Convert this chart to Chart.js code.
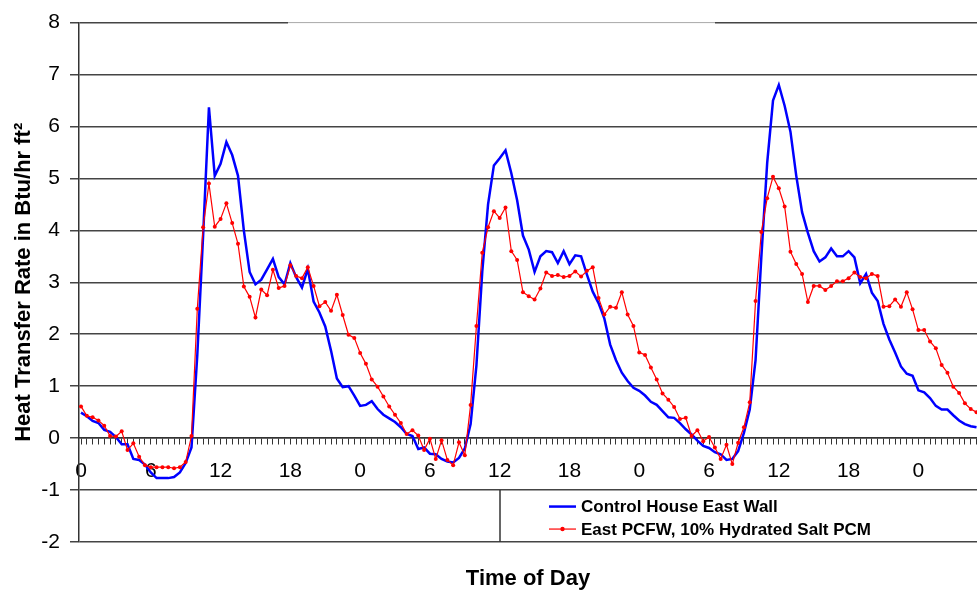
<!DOCTYPE html>
<html><head><meta charset="utf-8">
<script src="https://cdn.jsdelivr.net/npm/chart.js@4.4.0/dist/chart.umd.min.js"></script>
<style>html,body{margin:0;padding:0;background:#fff;overflow:hidden}</style>
</head><body>
<canvas id="c" width="977" height="597"></canvas>
<script>
// ---- data (half-hour samples starting at hour 0) ----
const seriesNames = ['Control House East Wall', 'East PCFW, 10% Hydrated Salt PCM'];
const controlWall = [
 0.49,0.42,0.33,0.29,0.16,0.12,0.02,-0.12,-0.12,-0.40,
 -0.42,-0.51,-0.66,-0.77,-0.77,-0.77,-0.75,-0.66,-0.48,-0.18,
 1.6,3.9,6.37,5.05,5.28,5.7,5.45,5.05,4.0,3.2,
 2.96,3.05,3.25,3.45,3.1,2.96,3.37,3.1,2.9,3.26,
 2.63,2.42,2.15,1.68,1.15,0.98,1.0,0.82,0.62,0.64,
 0.71,0.56,0.45,0.38,0.31,0.21,0.08,0.04,-0.21,-0.18,
 -0.30,-0.31,-0.40,-0.45,-0.47,-0.38,-0.2,0.27,1.4,3.2,
 4.5,5.25,5.39,5.54,5.1,4.58,3.9,3.63,3.2,3.5,
 3.6,3.58,3.37,3.6,3.35,3.52,3.5,3.15,2.82,2.6,
 2.3,1.8,1.5,1.26,1.1,0.97,0.91,0.82,0.70,0.64,
 0.52,0.40,0.39,0.29,0.17,0.07,-0.05,-0.15,-0.19,-0.27,
 -0.31,-0.42,-0.40,-0.25,0.1,0.55,1.5,3.5,5.3,6.5,
 6.8,6.4,5.9,5.05,4.35,3.95,3.6,3.4,3.48,3.65,
 3.5,3.5,3.6,3.48,2.98,3.16,2.8,2.64,2.2,1.9,
 1.65,1.38,1.24,1.2,0.92,0.88,0.77,0.62,0.55,0.55,
 0.44,0.34,0.27,0.23,0.21
];
const pcmWall = [
 0.61,0.43,0.40,0.34,0.24,0.04,0.03,0.13,-0.23,-0.10,
 -0.36,-0.52,-0.56,-0.56,-0.56,-0.56,-0.58,-0.56,-0.46,0.04,
 2.49,4.06,4.90,4.07,4.22,4.52,4.14,3.74,2.92,2.72,
 2.32,2.86,2.75,3.24,2.89,2.93,3.33,3.12,3.08,3.29,
 2.93,2.54,2.62,2.45,2.76,2.37,1.99,1.93,1.64,1.43,
 1.13,0.99,0.80,0.61,0.45,0.29,0.08,0.15,0.05,-0.23,
 -0.01,-0.40,-0.04,-0.42,-0.52,-0.08,-0.33,0.64,2.16,3.57,
 4.06,4.37,4.24,4.44,3.60,3.43,2.81,2.73,2.67,2.88,
 3.19,3.12,3.14,3.10,3.12,3.21,3.11,3.22,3.29,2.70,
 2.38,2.53,2.51,2.81,2.38,2.16,1.65,1.60,1.36,1.13,
 0.86,0.74,0.60,0.37,0.39,0.04,0.15,-0.06,0.02,-0.18,
 -0.40,-0.13,-0.50,-0.09,0.21,0.69,2.64,3.97,4.62,5.03,
 4.81,4.46,3.59,3.35,3.16,2.62,2.93,2.93,2.85,2.93,
 3.02,3.02,3.08,3.19,3.10,3.08,3.16,3.12,2.53,2.54,
 2.67,2.53,2.81,2.48,2.08,2.08,1.86,1.73,1.41,1.26,
 0.99,0.87,0.67,0.56,0.50
];
const sampleStepHours = 0.5;
const timeHours = controlWall.map((_, i) => i * sampleStepHours);
const xTickHours  = [0, 6, 12, 18, 24, 30, 36, 42, 48, 54, 60, 66, 72];
const xTickLabels = ['0','6','12','18','0','6','12','18','0','6','12','18','0'];
const yMin = -2, yMax = 8, yStep = 1;
const xMin = -0.172, xMax = 77.04;

const FONT = 'Arial, "Liberation Sans", sans-serif';
const toPts = (vals) => vals.map((v, i) => ({x: timeHours[i], y: v}));

const legendPlugin = {
  id: 'excelLegend',
  afterDraw(chart) {
    const ctx = chart.ctx;
    const ys = chart.scales.y;
    const yTop = ys.getPixelForValue(-1), yBot = ys.getPixelForValue(-2);
    const boxLeft = 500;
    ctx.save();
    // faded part of top gridline (as in reference)
    const y8 = ys.getPixelForValue(8);
    ctx.strokeStyle = '#ffffff'; ctx.lineWidth = 3;
    ctx.beginPath(); ctx.moveTo(288, y8); ctx.lineTo(715, y8); ctx.stroke();
    ctx.strokeStyle = '#a8a8a8'; ctx.lineWidth = 1;
    ctx.beginPath(); ctx.moveTo(288, y8); ctx.lineTo(715, y8); ctx.stroke();
    // legend box left edge
    ctx.strokeStyle = '#333'; ctx.lineWidth = 1.5;
    ctx.beginPath(); ctx.moveTo(boxLeft, yTop); ctx.lineTo(boxLeft, yBot); ctx.stroke();
    const ds = chart.data.datasets;
    const rows = [yTop + 16.5, yTop + 39];
    [0, 1].forEach((di, r) => {
      const d = ds[di];
      const yy = rows[r];
      ctx.strokeStyle = d.borderColor; ctx.lineWidth = d.borderWidth;
      ctx.beginPath(); ctx.moveTo(549, yy); ctx.lineTo(576, yy); ctx.stroke();
      if (d.pointRadius > 0) {
        ctx.fillStyle = d.borderColor;
        ctx.beginPath(); ctx.arc(562.5, yy, 2.2, 0, Math.PI * 2); ctx.fill();
      }
      ctx.fillStyle = '#000';
      ctx.font = 'bold 17px ' + FONT;
      ctx.textBaseline = 'middle'; ctx.textAlign = 'left';
      ctx.fillText(d.label, 581, yy + 1);
    });
    ctx.restore();
  }
};

new Chart(document.getElementById('c'), {
  type: 'line',
  data: {
    datasets: [
      { label: seriesNames[0], data: toPts(controlWall), borderColor: '#0000FF', borderWidth: 2.5,
        pointRadius: 0, tension: 0, order: 2 },
      { label: seriesNames[1], data: toPts(pcmWall), borderColor: '#FF0000', borderWidth: 1.2,
        pointRadius: 2, pointBackgroundColor: '#FF0000', pointBorderWidth: 0, pointStyle: 'circle',
        tension: 0, order: 1 }
    ]
  },
  options: {
    responsive: false, animation: false, devicePixelRatio: 1,
    layout: { autoPadding: false, padding: { top: 16, right: 0, bottom: 0, left: 0 } },
    plugins: { legend: { display: false }, tooltip: { enabled: false } },
    scales: {
      x: {
        type: 'linear', position: { y: 0 }, min: xMin, max: xMax,
        grid: { drawOnChartArea: false, drawTicks: true, tickLength: 6, color: '#333', lineWidth: 1 },
        border: { display: true, color: '#333', width: 1.5 },
        ticks: {
          stepSize: sampleStepHours, includeBounds: false, autoSkip: false, maxRotation: 0, minRotation: 0,
          padding: 0, color: '#000', font: { family: FONT, size: 21, lineHeight: '54px' },
          callback: (v) => {
            const k = xTickHours.findIndex(h => Math.abs(h - v) < 1e-6);
            return k >= 0 ? xTickLabels[k] : '';
          }
        }
      },
      xTitle: {
        type: 'linear', axis: 'x', position: 'bottom', min: 0, max: 1,
        grid: { display: false, drawTicks: false }, border: { display: false },
        ticks: { display: false },
        title: { display: true, text: 'Time of Day', color: '#000',
                 font: { family: FONT, size: 22, weight: 'bold' }, padding: { top: 23.6, bottom: 5 } }
      },
      y: {
        type: 'linear', min: yMin, max: yMax,
        afterFit: (s) => { s.width = 79; },
        grid: { color: '#444', lineWidth: 1.5, tickLength: 9, drawTicks: true },
        border: { display: true, color: '#333', width: 1.5 },
        ticks: { stepSize: yStep, padding: 10, color: '#000', font: { family: FONT, size: 21 } },
        title: { display: true, text: 'Heat Transfer Rate in Btu/hr ft²', color: '#000',
                 font: { family: FONT, size: 22, weight: 'bold' }, padding: { top: 11, bottom: 0 } }
      }
    }
  },
  plugins: [legendPlugin]
});
</script>
</body></html>
